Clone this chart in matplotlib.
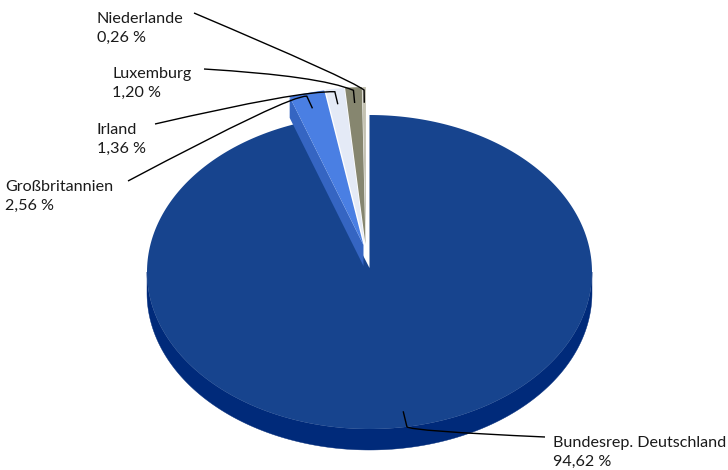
import numpy as np
import matplotlib
matplotlib.use("Agg")
import matplotlib.pyplot as plt
from matplotlib.patches import Polygon, PathPatch
from matplotlib.path import Path

countries = ["Bundesrep. Deutschland", "Großbritannien", "Irland", "Luxemburg", "Niederlande"]
shares = [94.62, 2.56, 1.36, 1.20, 0.26]
value_labels = ["94,62 %", "2,56 %", "1,36 %", "1,20 %", "0,26 %"]
top_colors = ["#17448E", "#4A7FE3", "#E4EAF6", "#86866F", "#C4C2B2"]
side_colors = ["#002A7A", "#3565C2", "#C5CBD8", "#6E6E5A", "#A5A392"]

# layout
CX, CY, RX, RY, DEPTH, EXPLODE = 369.5, 272.0, 222.5, 157.0, 21.0, 0.178
EX_X, EX_SHIFT, APEX_UP = 0.25, 3.5, 4.0
label_xy = [(553, 436), (5, 180), (97, 123), (112, 67), (97, 12)]
leader_start = [(545, 437), (128, 181), (155, 124), (204, 69), (194, 13)]
leader_ctrl = [(410, 431), (290, 95), (300, 90.5), (320, 76), (350, 79)]

plt.rcParams["font.family"] = ["Lato", "DejaVu Sans"]
fig = plt.figure(figsize=(7.28, 4.70), dpi=100)
ax = fig.add_axes([0, 0, 1, 1])
ax.set_xlim(0, 728)
ax.set_ylim(470, 0)
ax.axis("off")


def pt(c, ang, f=1.0):
    return np.column_stack((c[0] + RX * f * np.sin(ang), c[1] - RY * f * np.cos(ang)))


# slices run clockwise from 12 o'clock
ends = np.cumsum(shares) / 100 * 2 * np.pi
starts = np.r_[0, ends[:-1]]
mids = (starts + ends) / 2
centers = [(CX, CY)]
for m in mids[1:]:
    centers.append((CX - EX_SHIFT + RX * EXPLODE * EX_X * np.sin(m), CY - RY * EXPLODE * np.cos(m)))

for i in range(len(shares)):
    c = centers[i]
    a = np.linspace(starts[i], ends[i], 300)
    rim = pt(c, a)
    low = np.linspace(max(starts[i], np.pi / 2), min(ends[i], 3 * np.pi / 2), 300)
    if low[-1] > low[0]:
        r = pt(c, low)
        ax.add_patch(Polygon(np.vstack((r, (r + [0, DEPTH])[::-1])),
                             fc=side_colors[i], ec=side_colors[i], lw=0.3, zorder=1 + i))
    if i == 1:
        # the left cut face is only visible on the outermost exploded slice
        p = pt(c, np.array([starts[i]]))[0]
        ax.add_patch(Polygon([c, p, p + [0, DEPTH], (c[0], c[1] + DEPTH)],
                             fc=side_colors[i], ec="none", zorder=2 + i))
    apex = (c[0], c[1] - APEX_UP) if i == 0 else c
    ax.add_patch(Polygon(np.vstack(([apex], rim)), fc=top_colors[i], ec="none", zorder=3 + i))

for i, name in enumerate(countries):
    anchor = pt(centers[i], np.array([mids[i]]), 0.9)[0]
    knee = pt(centers[i], np.array([mids[i]]), 1.0)[0]
    if i:
        knee = knee + [0, 3]
    verts = [leader_start[i], leader_ctrl[i], knee, anchor]
    codes = [Path.MOVETO, Path.CURVE3, Path.CURVE3, Path.LINETO]
    ax.add_patch(PathPatch(Path(verts, codes), fc="none", ec="black", lw=1.0, zorder=20))
    ax.text(*label_xy[i], f"{name}\n{value_labels[i]}", ha="left", va="top", fontsize=11.6,
            color="#1a1a1a", linespacing=1.4, zorder=21)

fig.savefig("out.png", dpi=100)
